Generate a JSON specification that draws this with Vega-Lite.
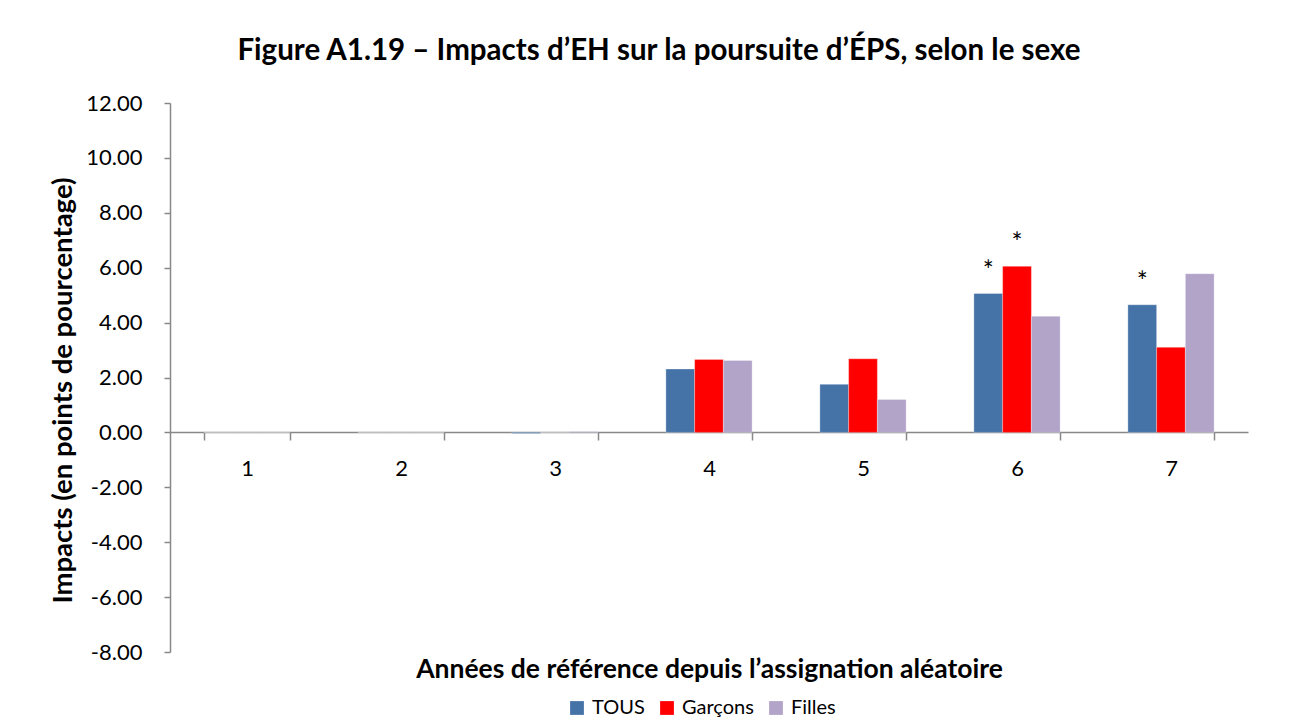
{
  "$schema": "https://vega.github.io/schema/vega-lite/v6.json",
  "autosize": {"type": "none"},
  "width": 1078,
  "height": 549,
  "padding": {"left": 170, "top": 103, "right": 67, "bottom": 67},
  "background": "white",
  "config": {"view": {"stroke": null}, "font": "Lato"},
  "title": {
    "text": "Figure A1.19 – Impacts d’EH sur la poursuite d’ÉPS, selon le sexe",
    "fontSize": 29.5,
    "fontWeight": "bold",
    "font": "Lato",
    "color": "black",
    "anchor": "middle",
    "frame": "group",
    "dx": -50,
    "offset": 26
  },
  "data": {
    "values": [
      {"annee": "1", "serie": "TOUS", "valeur": 0, "sig": ""},
      {"annee": "1", "serie": "Garçons", "valeur": 0, "sig": ""},
      {"annee": "1", "serie": "Filles", "valeur": 0, "sig": ""},
      {"annee": "2", "serie": "TOUS", "valeur": 0, "sig": ""},
      {"annee": "2", "serie": "Garçons", "valeur": 0, "sig": ""},
      {"annee": "2", "serie": "Filles", "valeur": 0, "sig": ""},
      {"annee": "3", "serie": "TOUS", "valeur": -0.04, "sig": ""},
      {"annee": "3", "serie": "Garçons", "valeur": 0, "sig": ""},
      {"annee": "3", "serie": "Filles", "valeur": 0.03, "sig": ""},
      {"annee": "4", "serie": "TOUS", "valeur": 2.31, "sig": ""},
      {"annee": "4", "serie": "Garçons", "valeur": 2.66, "sig": ""},
      {"annee": "4", "serie": "Filles", "valeur": 2.62, "sig": ""},
      {"annee": "5", "serie": "TOUS", "valeur": 1.75, "sig": ""},
      {"annee": "5", "serie": "Garçons", "valeur": 2.68, "sig": ""},
      {"annee": "5", "serie": "Filles", "valeur": 1.2, "sig": ""},
      {"annee": "6", "serie": "TOUS", "valeur": 5.06, "sig": "*"},
      {"annee": "6", "serie": "Garçons", "valeur": 6.05, "sig": "*"},
      {"annee": "6", "serie": "Filles", "valeur": 4.23, "sig": ""},
      {"annee": "7", "serie": "TOUS", "valeur": 4.65, "sig": "*"},
      {"annee": "7", "serie": "Garçons", "valeur": 3.1, "sig": ""},
      {"annee": "7", "serie": "Filles", "valeur": 5.78, "sig": ""}
    ]
  },
  "encoding": {
    "x": {
      "field": "annee",
      "type": "nominal",
      "scale": {"paddingInner": 0.44, "paddingOuter": 0.22},
      "axis": {
        "title": "Années de référence depuis l’assignation aléatoire",
        "titleFontSize": 26.5,
        "titleFontWeight": "bold",
        "titleFont": "Lato",
        "titleColor": "black",
        "titleY": 224,
        "labelAngle": 0,
        "labelFontSize": 22,
        "labelFont": "Lato",
        "labelColor": "black",
        "labelPadding": 18,
        "offset": -220,
        "tickBand": "extent",
        "tickSize": 8,
        "tickColor": "#888888",
        "domainColor": "#888888",
        "domainWidth": 1.5,
        "tickWidth": 1.5
      }
    },
    "xOffset": {
      "field": "serie",
      "type": "nominal",
      "sort": ["TOUS", "Garçons", "Filles"],
      "scale": {"paddingInner": 0, "paddingOuter": 0}
    },
    "y": {
      "field": "valeur",
      "type": "quantitative",
      "scale": {"domain": [-8, 12], "nice": false, "zero": false},
      "axis": {
        "title": "Impacts (en points de pourcentage)",
        "titleFontSize": 27.5,
        "titleFontWeight": "bold",
        "titleFont": "Lato",
        "titleColor": "black",
        "titlePadding": 8,
        "titleY": 287,
        "values": [-8, -6, -4, -2, 0, 2, 4, 6, 8, 10, 12],
        "format": ".2f",
        "labelExpr": "replace(datum.label, '−', '-')",
        "labelFontSize": 22,
        "labelFont": "Lato",
        "labelColor": "black",
        "labelPadding": 22,
        "grid": false,
        "tickSize": 6,
        "tickColor": "#888888",
        "domainColor": "#888888",
        "domainWidth": 1.5,
        "tickWidth": 1.5
      }
    }
  },
  "layer": [
    {
      "mark": {"type": "bar", "stroke": "white", "strokeWidth": 0.5, "strokeOpacity": 0.6},
      "encoding": {
        "color": {
          "field": "serie",
          "type": "nominal",
          "sort": ["TOUS", "Garçons", "Filles"],
          "scale": {"domain": ["TOUS", "Garçons", "Filles"], "range": ["#4573A7", "#FF0000", "#B2A3C9"]},
          "legend": {
            "title": null,
            "orient": "none",
            "direction": "horizontal",
            "legendX": 397,
            "legendY": 595,
            "symbolType": "square",
            "symbolSize": 190,
            "symbolStrokeWidth": 0,
            "labelFontSize": 20,
            "labelFont": "Lato",
            "labelColor": "black",
            "labelOffset": 5,
            "columnPadding": 12
          }
        }
      }
    },
    {
      "mark": {"type": "text", "fontSize": 26, "color": "black", "baseline": "alphabetic", "dy": -14},
      "encoding": {
        "text": {"field": "sig"}
      }
    }
  ]
}
